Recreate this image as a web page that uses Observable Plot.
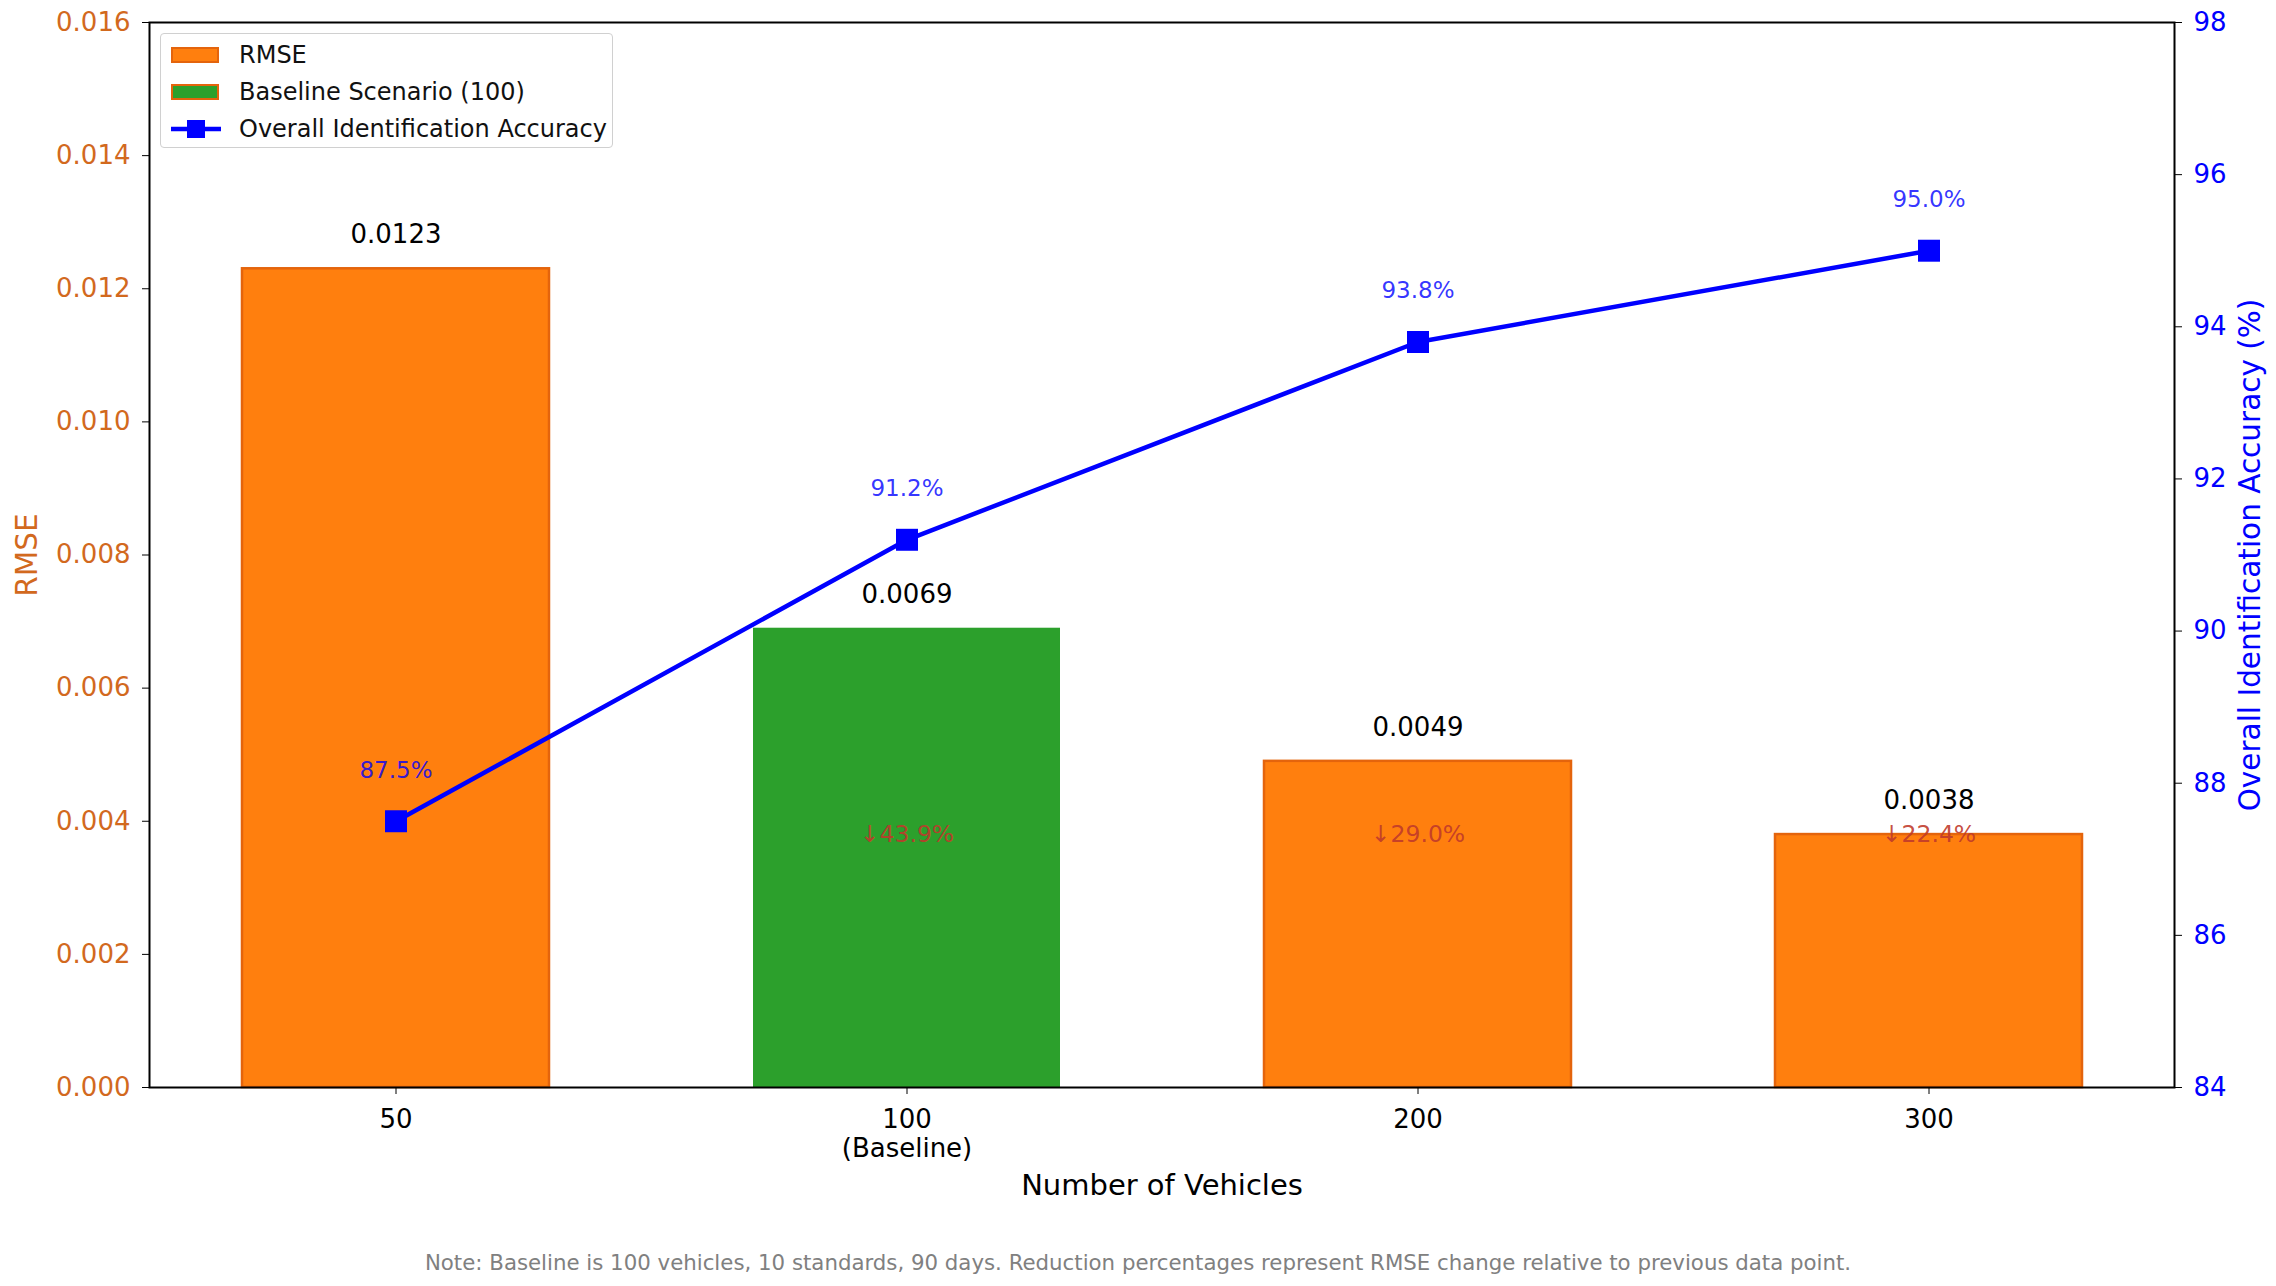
<!DOCTYPE html>
<html>
<head>
<meta charset="utf-8">
<script src="https://cdn.jsdelivr.net/npm/d3@7"></script>
<script src="https://cdn.jsdelivr.net/npm/@observablehq/plot@0.6"></script>
<style>
  html, body { margin: 0; padding: 0; background: white; }
  #wrap { position: relative; width: 2276px; height: 1286px; font-family: "DejaVu Sans", sans-serif; overflow: hidden; }
  #legend { position: absolute; left: 160px; top: 33px; width: 451px; height: 113px; border: 1.5px solid #d0d0d0; border-radius: 4px; background: rgba(255,255,255,0.85); }
  .row { position: absolute; left: 0; height: 30px; display: flex; align-items: center; }
  .sw { position: absolute; left: 10px; width: 48px; height: 16px; }
  .lbl { position: absolute; left: 78px; font-size: 24px; color: #111; white-space: nowrap; line-height: 30px; }
  #note { position: absolute; left: 0; width: 2276px; top: 1250px; text-align: center; font-size: 21.3px; color: #808080; }
</style>
</head>
<body>
<div id="wrap">
  <div id="chart"></div>
  <div id="legend"></div>
  <div id="note"></div>
</div>
<script>
// ---- data ----
const categories = ["50", "100", "200", "300"];
const tickLabels = ["50", "100\n(Baseline)", "200", "300"];
const rmse = [0.0123, 0.0069, 0.0049, 0.0038];
const accuracy = [87.5, 91.2, 93.8, 95.0];
const baselineCategory = "100";
const rmseTicks = [0, 0.002, 0.004, 0.006, 0.008, 0.010, 0.012, 0.014, 0.016];
const accTicks = [84, 86, 88, 90, 92, 94, 96, 98];
const legendLabels = ["RMSE", "Baseline Scenario (100)", "Overall Identification Accuracy"];
const noteText = "Note: Baseline is 100 vehicles, 10 standards, 90 days. Reduction percentages represent RMSE change relative to previous data point.";

// ---- derived ----
const rmseDomain = [0, 0.016];
const accDomain = [84, 98];
const toY = a => (a - accDomain[0]) / (accDomain[1] - accDomain[0]) * rmseDomain[1];
const fromY = v => accDomain[0] + v / rmseDomain[1] * (accDomain[1] - accDomain[0]);

const rows = categories.map((c, i) => ({
  cat: c,
  rmse: rmse[i],
  acc: accuracy[i],
  accY: toY(accuracy[i]),
  baseline: c === baselineCategory
}));
const reductions = rows.slice(1).map((d, k) => ({
  cat: d.cat,
  text: "\u2193" + ((rows[k].rmse - d.rmse) / rows[k].rmse * 100).toFixed(1) + "%"
}));
const redY = d3.min(rmse);

const ORANGE = "#ff7f0e", ORANGE_EDGE = "#e4640c", GREEN = "#2ca02c";
const AXIS_ORANGE = "#d2691e";

const chart = Plot.plot({
  width: 2276,
  height: 1286,
  marginLeft: 149,
  marginRight: 102,
  marginTop: 22,
  marginBottom: 199,
  style: { fontFamily: "DejaVu Sans", background: "white", color: "black" },
  x: { type: "band", domain: categories, paddingInner: 0.4, paddingOuter: 0.18, align: 0.5, axis: null },
  y: { domain: rmseDomain, axis: null },
  marks: [
    Plot.barY(rows.filter(d => !d.baseline), { x: "cat", y: "rmse", fill: ORANGE, stroke: ORANGE_EDGE, strokeWidth: 2.5 }),
    Plot.barY(rows.filter(d => d.baseline), { x: "cat", y: "rmse", fill: GREEN }),
    Plot.frame({ stroke: "black", strokeWidth: 2 }),
    Plot.axisX({ tickSize: 7, tickPadding: 12, fontSize: 26, lineHeight: 1.14, label: null,
      tickFormat: d => tickLabels[categories.indexOf(d)] }),
    Plot.axisY(rmseTicks, { anchor: "left", tickSize: 7, tickPadding: 12, fontSize: 26, label: null,
      color: AXIS_ORANGE, stroke: "black", tickFormat: d3.format(".3f") }),
    Plot.axisY(accTicks.map(toY), { anchor: "right", tickSize: 7, tickPadding: 12, fontSize: 26, label: null,
      color: "blue", stroke: "black", tickFormat: v => String(Math.round(fromY(v))) }),
    Plot.text(["RMSE"], { frameAnchor: "left", textAnchor: "middle", dx: -122, rotate: -90, fontSize: 29.5, fill: AXIS_ORANGE }),
    Plot.text(["Overall Identification Accuracy (%)"], { frameAnchor: "right", textAnchor: "middle", dx: 76, rotate: -90, fontSize: 29.5, fill: "blue" }),
    Plot.text(["Number of Vehicles"], { frameAnchor: "bottom", dy: 107, fontSize: 29, fill: "black" }),
    Plot.text(rows, { x: "cat", y: "rmse", text: d => d.rmse.toFixed(4), dy: -34, fontSize: 26, fill: "black" }),
    Plot.text(reductions, { x: "cat", y: () => redY, text: "text", fontSize: 23.5, fill: "#c0392b", fillOpacity: 0.9 }),
    Plot.line(rows, { x: "cat", y: "accY", stroke: "blue", strokeWidth: 4.5 }),
    Plot.dot(rows, { x: "cat", y: "accY", symbol: "square", r: 12.4, fill: "blue", stroke: "none" }),
    Plot.text(rows, { x: "cat", y: "accY", text: d => d.acc.toFixed(1) + "%", dy: -51, fontSize: 23, fill: "blue", fillOpacity: 0.8 })
  ]
});
document.getElementById("chart").appendChild(chart);

// ---- legend ----
const legend = document.getElementById("legend");
const rowTops = [6, 43, 80];
legendLabels.forEach((t, i) => {
  const row = document.createElement("div");
  row.className = "row";
  row.style.top = rowTops[i] + "px";
  row.style.width = "100%";
  const sw = document.createElement("div");
  sw.className = "sw";
  sw.style.top = "7px";
  if (i === 0) { sw.style.background = ORANGE; sw.style.border = "2px solid " + ORANGE_EDGE; sw.style.boxSizing = "border-box"; }
  else if (i === 1) { sw.style.background = GREEN; sw.style.border = "2px solid " + ORANGE_EDGE; sw.style.boxSizing = "border-box"; }
  else {
    sw.style.height = "30px"; sw.style.top = "0px";
    sw.innerHTML = '<svg width="50" height="30"><line x1="0" y1="15" x2="50" y2="15" stroke="blue" stroke-width="4.5"/><rect x="16" y="6" width="18" height="18" fill="blue"/></svg>';
  }
  const lb = document.createElement("div");
  lb.className = "lbl";
  lb.textContent = t;
  row.appendChild(sw);
  row.appendChild(lb);
  legend.appendChild(row);
});
document.getElementById("note").textContent = noteText;
</script>
</body>
</html>
